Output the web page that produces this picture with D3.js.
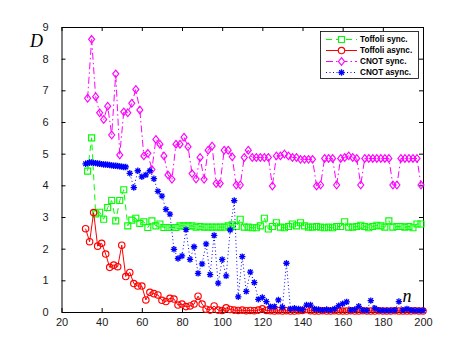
<!DOCTYPE html>
<html><head><meta charset="utf-8">
<script src="https://cdn.jsdelivr.net/npm/d3@7"></script>
<style>body{margin:0;background:#fff;} svg{display:block;}</style>
</head><body><svg id="c" width="469" height="354"></svg>
<script>
// ---------- data ----------
const nRed = d3.range(32, 201, 2);           // Toffoli async n values
const toffoliAsync = [
  2.63, 2.22, 3.14, 2.08, 2.17, 1.83, 1.41, 1.48, 1.43, 2.11,
  1.12, 1.25, 0.90, 0.82, 0.82, 0.38, 0.62, 0.58, 0.54, 0.37,
  0.33, 0.43, 0.41, 0.22, 0.25, 0.17, 0.19, 0.25, 0.50, 0.25,
  0.09, 0.06, 0.19, 0.06, 0.05, 0.13, 0.08, 0.06, 0.05, 0.06,
  0.04, 0.05, 0.04, 0.06, 0.10, 0.05, 0.04, 0.03, 0.04, 0.03,
  0.04, 0.03, 0.03, 0.04, 0.05, 0.08, 0.04, 0.03,
  0.03, 0.04, 0.03, 0.03, 0.04, 0.03, 0.03, 0.03, 0.04, 0.03,
  0.03, 0.04, 0.03, 0.03, 0.03, 0.04, 0.03, 0.03, 0.03, 0.04,
  0.03, 0.03, 0.03, 0.03, 0.04, 0.03, 0.03
];
const nSync = d3.range(33, 200, 2);          // sync series n values
const toffoliSync = [
  4.45, 5.50, 3.10, 3.15, 2.93, 3.30, 3.52, 2.88, 3.52, 3.86,
  2.72, 2.90, 2.96, 2.80, 2.85, 2.67, 2.88, 2.72, 2.78, 2.67,
  2.67, 2.67, 2.67, 2.72, 2.72, 2.72, 2.72, 2.68, 2.70, 2.68,
  2.68, 2.68, 2.68, 2.68, 2.68, 2.72, 2.75, 2.70, 2.93, 2.68,
  2.68, 2.66, 2.66, 2.72, 2.96, 2.62, 2.70, 2.82, 2.68, 2.66,
  2.70, 2.78, 2.72, 2.82, 2.72, 2.68, 2.68, 2.70, 2.68, 2.66,
  2.68, 2.66, 2.70, 2.70, 2.85, 2.68, 2.68, 2.70, 2.74, 2.70,
  2.66, 2.70, 2.74, 2.72, 2.68, 2.88, 2.68, 2.70, 2.70, 2.68,
  2.70, 2.66, 2.78, 2.78
];
const cnotSync = [
  6.75, 8.61, 6.80, 6.29, 6.08, 6.50, 5.59, 7.52, 4.96, 6.32,
  6.29, 6.59, 7.03, 6.38, 4.93, 5.01, 4.50, 5.45, 5.30, 4.93,
  4.33, 4.19, 5.30, 5.30, 5.52, 5.22, 4.37, 4.20, 4.88, 4.19,
  5.11, 5.24, 4.06, 4.06, 5.11, 5.11, 4.90, 4.01, 4.01, 4.88,
  5.11, 4.88, 4.88, 4.88, 4.88, 4.88, 3.98, 4.93, 4.93, 4.99,
  4.93, 4.88, 4.88, 4.82, 4.82, 4.82, 4.82, 3.98, 4.01, 4.85,
  4.85, 4.85, 4.01, 4.85, 4.88, 4.93, 4.88, 4.85, 4.01, 4.85,
  4.85, 4.85, 4.85, 4.85, 4.85, 4.85, 4.01, 4.01, 4.85, 4.85,
  4.85, 4.85, 4.85, 4.01
];
const nBlue = d3.range(32, 53, 1).concat(d3.range(54, 201, 2));
const cnotAsync = [
  4.68, 4.70, 4.72, 4.72, 4.71, 4.70, 4.69, 4.68, 4.67, 4.66,
  4.66, 4.65, 4.64, 4.63, 4.62, 4.62, 4.61, 4.60, 4.59, 4.58, 4.58,
  4.38, 3.93, 4.46, 4.27, 4.33, 4.46, 4.21, 3.81, 3.66, 3.24,
  3.09, 1.98, 1.69, 1.77, 2.60, 1.66, 2.06, 1.22, 1.52, 2.15,
  1.18, 2.42, 0.91, 1.66, 1.14, 2.59, 3.52, 0.48, 1.75, 0.65,
  1.26, 0.93, 0.40, 0.46, 0.33, 0.17, 0.17, 0.38, 0.15, 1.54,
  0.10, 0.12, 0.10, 0.08, 0.22, 0.22, 0.10, 0.08, 0.06, 0.08,
  0.06, 0.10, 0.20, 0.26, 0.32, 0.06, 0.08, 0.18, 0.06, 0.05,
  0.36, 0.12, 0.06, 0.05, 0.05, 0.05, 0.06, 0.33, 0.06, 0.10,
  0.06, 0.05, 0.05, 0.05
];
const xTicks = [20, 40, 60, 80, 100, 120, 140, 160, 180, 200];
const yTicks = [0, 1, 2, 3, 4, 5, 6, 7, 8, 9];
const legendLabels = ["Toffoli sync.", "Toffoli async.", "CNOT sync.", "CNOT async."];

// ---------- drawing ----------
const svg = d3.select('#c');
const x = d3.scaleLinear().domain([20, 200]).range([61.5, 423]);
const y = d3.scaleLinear().domain([0, 9]).range([312, 27]);

const series = [
  {n: nSync, v: toffoliSync, color: '#00ff00', dash: '6,4', marker: 'square'},
  {n: nRed, v: toffoliAsync, color: '#ff0000', dash: null, marker: 'circle'},
  {n: nSync, v: cnotSync, color: '#ff00ff', dash: '7,3,1.5,3', marker: 'diamond'},
  {n: nBlue, v: cnotAsync, color: '#0000ff', dash: '1,2.5', marker: 'star'}
];

const markerPath = {
  square: 'M-3,-3H3V3H-3Z',
  circle: 'M3.2,0A3.2,3.2 0 1,1 -3.2,0A3.2,3.2 0 1,1 3.2,0Z',
  diamond: 'M0,-3.8L3,0L0,3.8L-3,0Z',
  star: 'M-3.2,0H3.2M0,-3.2V3.2M-2.3,-2.3L2.3,2.3M-2.3,2.3L2.3,-2.3'
};

// axes
const fontFam = '"Liberation Sans", Arial, Helvetica, sans-serif';
function styleAxis(g) {
  g.selectAll('path.domain').attr('stroke', '#000').attr('stroke-width', 1);
  g.selectAll('.tick line').attr('stroke', '#000').attr('stroke-width', 1);
  g.selectAll('.tick text').attr('fill', '#1a1a1a').style('font-family', fontFam).style('font-size', '11px');
}
svg.append('g').attr('transform', 'translate(0,312)')
  .call(d3.axisBottom(x).tickValues(xTicks).tickSizeInner(-4).tickSizeOuter(0).tickPadding(6))
  .call(styleAxis);
svg.append('g').attr('transform', 'translate(0,27)')
  .call(d3.axisTop(x).tickValues(xTicks).tickSizeInner(-4).tickSizeOuter(0).tickFormat(''))
  .call(styleAxis);
svg.append('g').attr('transform', 'translate(61.5,0)')
  .call(d3.axisLeft(y).tickValues(yTicks).tickSizeInner(-4).tickSizeOuter(0).tickPadding(13))
  .call(styleAxis);
svg.append('g').attr('transform', 'translate(423,0)')
  .call(d3.axisRight(y).tickValues(yTicks).tickSizeInner(-4).tickSizeOuter(0).tickFormat(''))
  .call(styleAxis);

// series
const line = d3.line().x(d => x(d[0])).y(d => y(d[1]));
series.forEach(s => {
  const pts = s.n.map((n, i) => [n, s.v[i]]);
  const g = svg.append('g');
  g.append('path').attr('d', line(pts)).attr('fill', 'none')
    .attr('stroke', s.color).attr('stroke-width', 1)
    .attr('stroke-dasharray', s.dash);
  g.selectAll('path.m').data(pts).enter().append('path').attr('class', 'm')
    .attr('d', markerPath[s.marker])
    .attr('transform', d => `translate(${x(d[0])},${y(d[1])})`)
    .attr('fill', 'none').attr('stroke', s.color)
    .attr('stroke-width', s.marker === 'star' ? 1.3 : 1.15);
});

// axis labels
svg.append('text').attr('x', 30).attr('y', 47).text('D')
  .style('font-family', '"Liberation Serif", "Times New Roman", serif')
  .style('font-style', 'italic').style('font-size', '18px').attr('fill', '#000');
svg.append('text').attr('x', 402.5).attr('y', 301.5).text('n')
  .style('font-family', '"Liberation Serif", "Times New Roman", serif')
  .style('font-style', 'italic').style('font-size', '18px').attr('fill', '#000');

// legend
const lg = svg.append('g');
lg.append('rect').attr('x', 320.5).attr('y', 31.5).attr('width', 98).attr('height', 47)
  .attr('fill', '#fff').attr('stroke', '#000').attr('stroke-width', 0.8);
series.forEach((s, i) => {
  const cy = 39.5 + i * 11;
  lg.append('line').attr('x1', 326).attr('x2', 357).attr('y1', cy).attr('y2', cy)
    .attr('stroke', s.color).attr('stroke-width', 1).attr('stroke-dasharray', s.dash);
  lg.append('path').attr('d', markerPath[s.marker])
    .attr('transform', `translate(341.5,${cy})`)
    .attr('fill', s.marker === 'star' ? 'none' : '#fff').attr('stroke', s.color)
    .attr('stroke-width', s.marker === 'star' ? 1.3 : 1.15);
  lg.append('text').attr('x', 360).attr('y', cy).attr('dy', '0.35em').text(legendLabels[i])
    .style('font-family', fontFam).style('font-weight', 'bold').style('font-size', '8.2px')
    .attr('fill', '#000');
});
</script>
</body></html>
